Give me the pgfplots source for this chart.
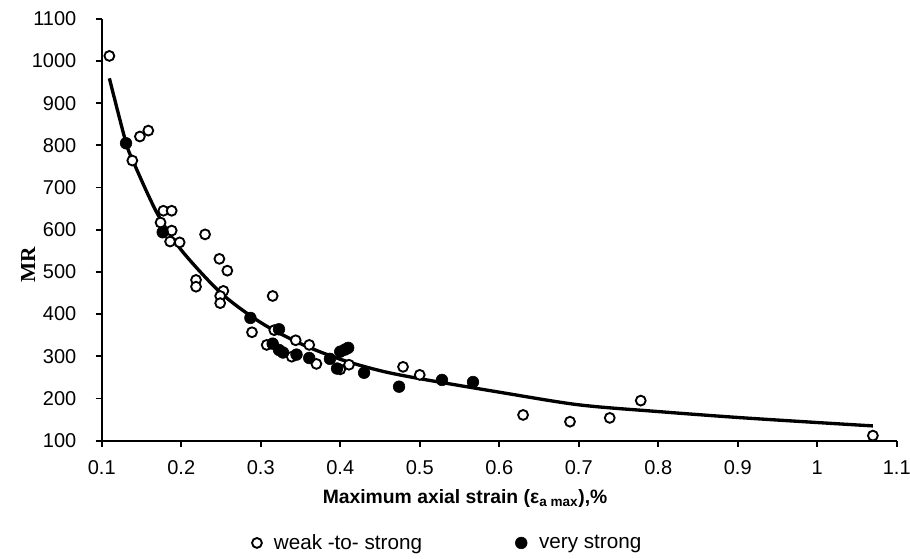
\documentclass[border=0pt]{standalone}
\usepackage{pgfplots}
\pgfplotsset{compat=1.18}
\usepackage{fontspec}
\setmainfont{Liberation Sans}
\newfontfamily\serifMR{Liberation Serif}
\begin{document}
\begin{tikzpicture}
\useasboundingbox (-76.3pt,-88pt) rectangle (606.2pt,330.5pt);
\begin{axis}[
  scale only axis,
  width=596.25pt, height=316.4pt,
  xmin=0.1, xmax=1.1, ymin=100, ymax=1100,
  axis x line=bottom, axis y line=left,
  axis line style={-, line width=1.5pt},
  every tick/.style={black, line width=1.3pt},
  tick align=outside,
  major tick length=4.5pt,
  xtick={0.1,0.2,0.3,0.4,0.5,0.6,0.7,0.8,0.9,1.0,1.1},
  xticklabels={0.1,0.2,0.3,0.4,0.5,0.6,0.7,0.8,0.9,1,1.1},
  ytick={100,200,300,400,500,600,700,800,900,1000,1100},
  /pgf/number format/assume math mode=true,
  /pgf/number format/1000 sep={},
  tick label style={font=\fontsize{15}{17}\selectfont},
  yticklabel style={xshift=-11pt},
  xticklabel style={yshift=-7pt},
  xlabel={\bfseries Maximum axial strain (ε\textsubscript{a max}),\%},
  xlabel style={at={(axis description cs:0.457,-0.138)}, anchor=center, font=\fontsize{14.5}{16}\selectfont},
  ylabel={\serifMR\bfseries MR},
  ylabel style={at={(axis description cs:-0.0927,0.4164)}, anchor=center, font=\fontsize{16}{18}\selectfont},
  clip=false,
  legend columns=2,
  legend style={at={(axis description cs:0.4356,-0.2424)}, anchor=center, draw=none, fill=none,
    font=\fontsize{15.5}{17}\selectfont,
    /tikz/every odd column/.append style={column sep=7pt},
    /tikz/every even column/.append style={column sep=68pt}},
]
\addplot[black, line width=2.5pt, smooth, forget plot] coordinates {
(0.1096,959) (0.13,810) (0.14,760) (0.17,638) (0.2,552) (0.25,450) (0.3,380)
(0.35,330) (0.4,293) (0.45,266) (0.5,247) (0.6,215) (0.7,185) (0.8,169)
(0.9,155) (1.0,143) (1.07,135)
};
\addplot[only marks, mark=*, mark size=3.7pt, mark options={fill=white, draw=black, line width=1.4pt}] coordinates {
(0.1096,1012) (0.1385,764) (0.148,821) (0.1586,835) (0.1775,645) (0.188,645)
(0.174,617) (0.188,598) (0.186,572) (0.198,570) (0.230,589) (0.248,531)
(0.258,503) (0.2186,481) (0.2186,465) (0.253,455) (0.249,443) (0.249,426)
(0.315,443) (0.289,357) (0.317,362) (0.3075,327) (0.344,338) (0.361,327)
(0.339,299) (0.370,282) (0.40,269) (0.411,280) (0.479,275) (0.5,256)
(0.63,161) (0.689,145) (0.739,154) (0.778,195) (1.07,112)
};
\addlegendentry{weak -to- strong}
\addplot[only marks, mark=*, mark size=4.4pt, mark options={fill=black, draw=black, line width=0.4pt}] coordinates {
(0.1306,805) (0.1767,594) (0.287,391) (0.323,364) (0.315,330) (0.323,315)
(0.328,309) (0.345,304) (0.361,296) (0.387,294) (0.396,271) (0.40,311)
(0.406,316) (0.41,320) (0.43,261) (0.474,228) (0.528,244) (0.567,239)
};
\addlegendentry{very strong}
\end{axis}
\end{tikzpicture}
\end{document}
